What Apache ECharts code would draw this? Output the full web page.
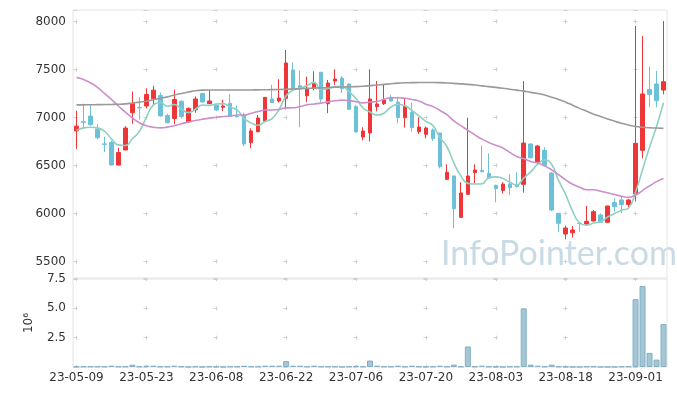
<!DOCTYPE html>
<html><head><meta charset="utf-8">
<script src="https://cdn.jsdelivr.net/npm/echarts@6/dist/echarts.min.js"></script>
<style>html,body{margin:0;padding:0;background:#fff}#c{width:677px;height:396px}</style>
</head><body><div id="c"></div>
<script>
const dates = ["23-05-09","23-05-10","23-05-11","23-05-12","23-05-15","23-05-16","23-05-17","23-05-18","23-05-19","23-05-22",
"23-05-23","23-05-24","23-05-25","23-05-26","23-05-30","23-05-31","23-06-01","23-06-02","23-06-05","23-06-07",
"23-06-08","23-06-09","23-06-12","23-06-13","23-06-14","23-06-15","23-06-16","23-06-19","23-06-20","23-06-21",
"23-06-22","23-06-23","23-06-26","23-06-27","23-06-28","23-06-29","23-06-30","23-07-03","23-07-04","23-07-05",
"23-07-06","23-07-07","23-07-10","23-07-11","23-07-12","23-07-13","23-07-14","23-07-17","23-07-18","23-07-19",
"23-07-20","23-07-21","23-07-24","23-07-25","23-07-26","23-07-27","23-07-28","23-07-31","23-08-01","23-08-02",
"23-08-03","23-08-04","23-08-07","23-08-08","23-08-09","23-08-10","23-08-11","23-08-14","23-08-16","23-08-17",
"23-08-18","23-08-21","23-08-22","23-08-23","23-08-24","23-08-25","23-08-28","23-08-29","23-08-30","23-08-31",
"23-09-01","23-09-04","23-09-05","23-09-06","23-09-07"];
const opens = [6860,6955,7015,6880,6725,6740,6505,6662,7050,7105,7120,7195,7230,7020,6990,7170,6957,7080,7250,7145,
7127,7106,7148,7012,7026,6738,6852,6963,7193,7172,7200,7495,7332,7227,7307,7471,7144,7380,7411,7349,
7113,6797,6839,7113,7144,7210,7161,6998,7054,6852,6825,6870,6839,6356,6391,5960,6200,6425,6450,6418,
6293,6241,6307,6297,6304,6724,6537,6658,6422,6002,5787,5800,5900,5891,5922,5985,5908,6113,6141,6095,
6203,6658,7293,7349,7286];
const closes = [6910,6950,6925,6790,6720,6505,6635,6890,7145,7100,7240,7285,7017,6945,7188,7010,7095,7193,7162,7172,
7078,7120,7010,7008,6724,6860,6995,7210,7155,7203,7568,7297,7297,7304,7356,7193,7359,7401,7300,7085,
6849,6859,7193,7141,7182,7172,6998,7116,6895,6901,6891,6780,6488,6429,6050,6214,6391,6453,6435,6370,
6259,6307,6269,6282,6734,6580,6703,6498,6036,5898,5849,5828,5895,5918,6019,5908,6078,6071,6092,6141,
6731,7245,7241,7175,7373];
const lows = [6670,6885,6915,6770,6640,6500,6500,6660,6935,6980,7095,7140,7010,6940,6930,6990,6950,7050,7155,7140,
7070,7068,7005,7000,6700,6680,6845,6960,7150,7155,7085,7280,6898,7160,7285,7158,7045,7340,7255,7080,
6845,6762,6752,7064,7130,7165,6940,6895,6855,6828,6783,6755,6470,6350,5846,5955,6195,6318,6430,6360,
6116,6210,6190,6270,6217,6575,6505,6490,6025,5805,5731,5750,5810,5880,5915,5905,5905,6020,6002,6050,
6124,6575,7106,7106,7241];
const highs = [7070,7145,7130,6930,6800,6755,6685,6910,7270,7210,7305,7330,7260,7040,7290,7180,7105,7220,7255,7285,
7140,7182,7245,7123,7050,6887,7026,7212,7340,7398,7703,7575,7491,7425,7481,7475,7391,7502,7430,7355,
7130,6898,7502,7380,7349,7235,7217,7200,7155,7002,6905,6887,6842,6512,6395,6325,6998,6512,6707,6627,
6300,6325,6411,6429,7380,6730,6714,6690,6430,6005,5874,5870,5905,6078,6036,6000,6080,6158,6175,6150,
7953,7849,7530,7484,8005];
const ma5 = [6868,6892,6899,6892,6859,6778,6715,6708,6779,6855,7002,7132,7157,7117,7135,7089,7051,7086,7130,7126,
7140,7145,7108,7078,6988,6944,6919,6959,6989,7085,7226,7287,7304,7334,7364,7289,7302,7323,7322,7268,
7199,7099,7057,7025,7045,7109,7137,7122,7073,7016,6960,6917,6791,6698,6528,6392,6314,6307,6309,6373,
6382,6365,6328,6297,6370,6434,6514,6559,6510,6343,6197,6022,5901,5878,5902,5914,5964,5999,6034,6058,
6223,6456,6690,6907,7153];
const ma20 = [7418,7397,7362,7313,7251,7188,7120,7055,6995,6945,6913,6899,6892,6900,6915,6935,6952,6968,6982,6994,
7002,7011,7015,7026,7026,7044,7062,7078,7078,7084,7100,7101,7115,7132,7141,7150,7163,7174,7181,7176,
7165,7152,7161,7167,7190,7206,7206,7201,7188,7173,7139,7114,7073,7029,6964,6915,6867,6819,6776,6740,
6711,6683,6637,6594,6572,6542,6527,6496,6454,6403,6351,6304,6274,6248,6247,6232,6216,6197,6180,6168,
6192,6239,6287,6332,6364];
const maLong = [7132,7132,7133,7134,7135,7136,7138,7142,7150,7160,7170,7185,7200,7215,7235,7250,7265,7278,7285,7287,
7287,7287,7286,7286,7286,7287,7288,7289,7290,7292,7295,7297,7300,7303,7306,7309,7312,7315,7318,7320,
7322,7326,7332,7338,7345,7352,7358,7362,7363,7364,7364,7364,7363,7360,7356,7350,7345,7338,7330,7322,
7314,7305,7295,7285,7275,7262,7250,7234,7212,7188,7160,7128,7095,7065,7035,7010,6985,6962,6940,6921,
6906,6898,6893,6890,6887];
const volumes = [0.04,0.04,0.04,0.04,0.04,0.11,0.04,0.04,0.2,0.04,0.11,0.11,0.04,0.04,0.11,0.04,0.01,0.04,0.01,0.04,
0.04,0.01,0.04,0.04,0.11,0.04,0.04,0.11,0.11,0.11,0.5,0.11,0.11,0.04,0.11,0.04,0.04,0.04,0.01,0.04,
0.11,0.04,0.55,0.11,0.04,0.04,0.11,0.04,0.11,0.04,0.04,0.04,0.11,0.04,0.2,0.04,1.75,0.04,0.11,0.04,
0.04,0.01,0.04,0.04,5.0,0.2,0.11,0.04,0.2,0.04,0.04,0.01,0.01,0.04,0.04,0.01,0.01,0.01,0.04,0.04,
5.78,6.9,1.2,0.63,3.66];
const priceStep = 500;
const volumeStep = 2.5;
const labelEvery = 10;
const watermark = "InfoPointer.com";
const volumeUnit = "10\u2076";

const ohlc = dates.map((d, i) => [opens[i], closes[i], lows[i], highs[i]]);
const FONT = 'DejaVu Sans';
const RED = '#ee3538', BLUE = '#6cc1d9';
const chart = echarts.init(document.getElementById('c'), null, {renderer: 'canvas'});
const crossColor = '#cfcfcf';
chart.setOption({
  animation: false,
  backgroundColor: '#fff',
  grid: [
    {left: 73, right: 10, top: 10, height: 268, show: true, borderColor: '#e4e4e4', borderWidth: 1},
    {left: 73, right: 10, top: 279, height: 88, show: true, borderColor: '#e4e4e4', borderWidth: 1}
  ],
  xAxis: [
    {type: 'category', data: dates, gridIndex: 0, boundaryGap: true,
     axisLine: {show: false}, axisTick: {show: false}, axisLabel: {show: false},
     splitLine: {show: true, interval: labelEvery - 1, alignWithLabel: true,
       lineStyle: {color: crossColor, width: 1, type: [4, 44], dashOffset: 38.5}}},
    {type: 'category', data: dates, gridIndex: 1, boundaryGap: true,
     axisLine: {show: false}, axisTick: {show: false},
     axisLabel: {interval: labelEvery - 1, color: '#333', fontSize: 12, fontFamily: FONT, margin: 5},
     splitLine: {show: true, interval: labelEvery - 1, alignWithLabel: true,
       lineStyle: {color: crossColor, width: 1, type: [4, 25.33], dashOffset: 2}}}
  ],
  yAxis: [
    {type: 'value', gridIndex: 0, min: 5328, max: 8120, scale: true,
     axisLine: {show: false}, axisTick: {show: false},
     axisLabel: {color: '#333', fontSize: 12, fontFamily: FONT, margin: 7,
       formatter: v => (v % priceStep === 0 ? String(v) : '')},
     splitLine: {show: true, lineStyle: {color: crossColor, width: 1, type: [4, 66], dashOffset: 69.5}}},
    {type: 'value', gridIndex: 1, min: 0, max: 7.5, interval: volumeStep,
     name: volumeUnit, nameLocation: 'middle', nameGap: 38, nameRotate: 90,
     nameTextStyle: {color: '#333', fontSize: 12, fontFamily: FONT},
     axisLine: {show: false}, axisTick: {show: false},
     axisLabel: {color: '#333', fontSize: 12, fontFamily: FONT, margin: 7,
       formatter: v => (v === 0 ? '' : v.toFixed(1))},
     splitLine: {show: true, lineStyle: {color: crossColor, width: 1, type: [4, 66], dashOffset: 69.5}}}
  ],
  graphic: [{type: 'text', left: 441, top: 237, z: -1, silent: true,
    style: {text: watermark, fontSize: 34, fontFamily: 'Lato', fill: '#c8dbe5'}}],
  series: [
    {type: 'candlestick', xAxisIndex: 0, yAxisIndex: 0, data: ohlc, barWidth: 4, z: 3,
     itemStyle: {color: RED, color0: BLUE, borderColor: RED, borderColor0: BLUE, borderWidth: 1}},
    {type: 'line', xAxisIndex: 0, yAxisIndex: 0, data: ma5, smooth: true, showSymbol: false, z: 4,
     lineStyle: {color: '#8fd0c2', width: 1.6}},
    {type: 'line', xAxisIndex: 0, yAxisIndex: 0, data: ma20, smooth: true, showSymbol: false, z: 4,
     lineStyle: {color: '#cc8fcc', width: 1.6}},
    {type: 'line', xAxisIndex: 0, yAxisIndex: 0, data: maLong, smooth: true, showSymbol: false, z: 4,
     lineStyle: {color: '#9a9a9a', width: 1.6}},
    {type: 'bar', xAxisIndex: 1, yAxisIndex: 1, data: volumes, barWidth: 6,
     itemStyle: {color: '#a3c7d6', borderColor: '#86afc2', borderWidth: 1}}
  ]
});
</script></body></html>
